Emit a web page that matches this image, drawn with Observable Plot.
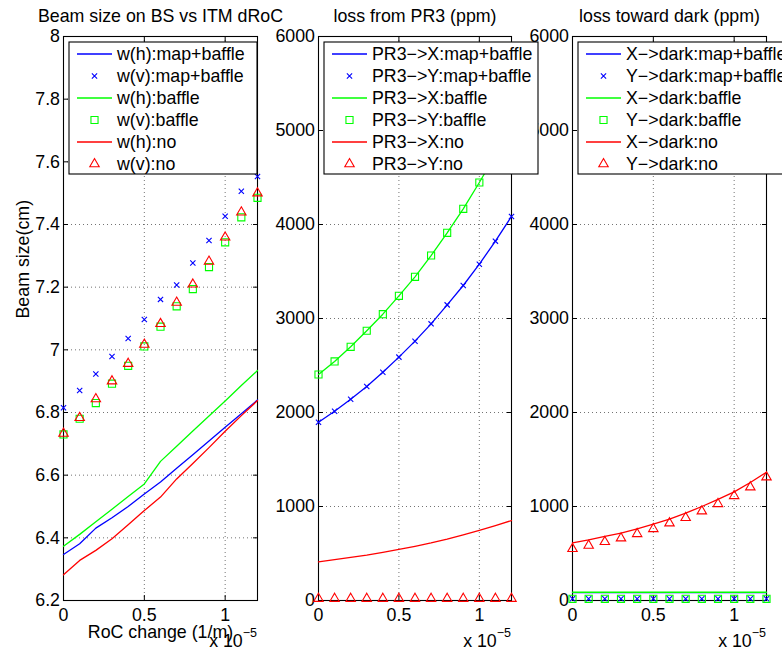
<!DOCTYPE html>
<html>
<head>
<meta charset="utf-8">
<script src="https://cdn.jsdelivr.net/npm/d3@7"></script>
<script src="https://cdn.jsdelivr.net/npm/@observablehq/plot@0.6"></script>
<style>
  body { margin: 0; background: #fff; }
  #chart { position: relative; width: 782px; height: 656px; overflow: hidden; background: #fff; }
  #chart svg { position: absolute; left: 0; top: 0; }
</style>
</head>
<body>
<div id="chart"></div>
<script>
// ---------- data ----------
// RoC change (x 1e-5 1/m)
const roc = [0, 0.1, 0.2, 0.3, 0.4, 0.5, 0.6, 0.7, 0.8, 0.9, 1.0, 1.1, 1.2];
const xTicks = [0, 0.5, 1];
const xTickLabels = ["0", "0.5", "1"];
const beamTicks = [6.2, 6.4, 6.6, 6.8, 7, 7.2, 7.4, 7.6, 7.8, 8];
const beamTickLabels = ["6.2", "6.4", "6.6", "6.8", "7", "7.2", "7.4", "7.6", "7.8", "8"];
const lossTicks = [0, 1000, 2000, 3000, 4000, 5000, 6000];
const lossTickLabels = ["0", "1000", "2000", "3000", "4000", "5000", "6000"];

const titles = ["Beam size on BS vs ITM dRoC", "loss from PR3 (ppm)", "loss toward dark (ppm)"];
const xAxisLabel = "RoC change (1/m)";
const yAxisLabel = "Beam size(cm)";
const xExponent = ["x 10", "\u22125"];

// panel 1: beam size (cm)
const wH_mapBaffle = [6.347, 6.381, 6.431, 6.464, 6.500, 6.540, 6.578, 6.622, 6.665, 6.709, 6.753, 6.796, 6.840];
const wV_mapBaffle = [6.815, 6.870, 6.923, 6.979, 7.036, 7.097, 7.161, 7.207, 7.277, 7.349, 7.426, 7.506, 7.553];
const wH_baffle    = [6.373, 6.411, 6.451, 6.491, 6.532, 6.572, 6.644, 6.692, 6.741, 6.789, 6.837, 6.886, 6.934];
const wV_baffle    = [6.730, 6.780, 6.830, 6.892, 6.949, 7.011, 7.074, 7.139, 7.194, 7.264, 7.343, 7.423, 7.485];
const wH_no        = [6.282, 6.328, 6.360, 6.397, 6.442, 6.487, 6.530, 6.588, 6.637, 6.688, 6.740, 6.790, 6.838];
const wV_no        = [6.733, 6.783, 6.843, 6.900, 6.956, 7.017, 7.083, 7.151, 7.209, 7.282, 7.359, 7.439, 7.500];

// panel 2: loss from PR3 (ppm)
const pr3X_mapBaffle = [1897, 2014, 2142, 2277, 2429, 2589, 2759, 2943, 3145, 3351, 3578, 3823, 4085];
const pr3Y_mapBaffle = [1897, 2014, 2142, 2277, 2429, 2589, 2759, 2943, 3145, 3351, 3578, 3823, 4085];
const pr3X_baffle    = [2404, 2543, 2699, 2870, 3046, 3241, 3443, 3670, 3911, 4167, 4447, 4740, 5050];
const pr3Y_baffle    = [2404, 2543, 2699, 2870, 3046, 3241, 3443, 3670, 3911, 4167, 4447, 4740, 5050];
const pr3X_no        = [411, 435, 458, 483, 512, 543, 576, 612, 652, 697, 745, 797, 851];
const pr3Y_no        = [20, 20, 20, 20, 20, 20, 20, 20, 20, 20, 20, 20, 20];

// panel 3: loss toward dark (ppm)
const darkX_mapBaffle = [84, 84, 84, 84, 84, 84, 84, 84, 84, 84, 84, 84, 84];
const darkY_mapBaffle = [18, 18, 18, 18, 18, 18, 18, 18, 18, 18, 18, 18, 18];
const darkX_baffle    = [88, 88, 88, 88, 88, 88, 88, 88, 88, 88, 88, 88, 88];
const darkY_baffle    = [18, 18, 18, 18, 18, 18, 18, 18, 18, 18, 18, 18, 18];
const darkX_no        = [614, 645, 681, 716, 762, 812, 865, 930, 1000, 1075, 1155, 1255, 1365];
const darkY_no        = [550, 585, 624, 663, 709, 762, 823, 880, 950, 1028, 1113, 1206, 1312];

// ---------- style ----------
const BLUE = "#0000ff", GREEN = "#00ff00", RED = "#ff0000";
const FONT = "'Liberation Sans', Arial, Helvetica, sans-serif";
const FS = 17.8;
const W = 782, H = 656, MT = 36, MB = 56;

const panels = [
  {
    title: titles[0], left: 63, right: 257, yDomain: [6.2, 8], yTicks: beamTicks, yLabels: beamTickLabels,
    xlabel: true, ylabel: true, legendWidth: 188,
    series: [
      {label: "w(h):map+baffle", values: wH_mapBaffle, color: BLUE, kind: "line"},
      {label: "w(v):map+baffle", values: wV_mapBaffle, color: BLUE, kind: "dot", symbol: "times", r: 2.5},
      {label: "w(h):baffle", values: wH_baffle, color: GREEN, kind: "line"},
      {label: "w(v):baffle", values: wV_baffle, color: GREEN, kind: "dot", symbol: "square", r: 4},
      {label: "w(h):no", values: wH_no, color: RED, kind: "line"},
      {label: "w(v):no", values: wV_no, color: RED, kind: "dot", symbol: "triangle", r: 3.5}
    ]
  },
  {
    title: titles[1], left: 318, right: 511, yDomain: [0, 6000], yTicks: lossTicks, yLabels: lossTickLabels,
    xlabel: false, ylabel: false, legendWidth: 214,
    series: [
      {label: "PR3\u2212>X:map+baffle", values: pr3X_mapBaffle, color: BLUE, kind: "line"},
      {label: "PR3\u2212>Y:map+baffle", values: pr3Y_mapBaffle, color: BLUE, kind: "dot", symbol: "times", r: 2.5},
      {label: "PR3\u2212>X:baffle", values: pr3X_baffle, color: GREEN, kind: "line"},
      {label: "PR3\u2212>Y:baffle", values: pr3Y_baffle, color: GREEN, kind: "dot", symbol: "square", r: 4},
      {label: "PR3\u2212>X:no", values: pr3X_no, color: RED, kind: "line"},
      {label: "PR3\u2212>Y:no", values: pr3Y_no, color: RED, kind: "dot", symbol: "triangle", r: 3.5}
    ]
  },
  {
    title: titles[2], left: 572, right: 766, yDomain: [0, 6000], yTicks: lossTicks, yLabels: lossTickLabels,
    xlabel: false, ylabel: false, legendWidth: 230,
    series: [
      {label: "X\u2212>dark:map+baffle", values: darkX_mapBaffle, color: BLUE, kind: "line"},
      {label: "Y\u2212>dark:map+baffle", values: darkY_mapBaffle, color: BLUE, kind: "dot", symbol: "times", r: 2.5},
      {label: "X\u2212>dark:baffle", values: darkX_baffle, color: GREEN, kind: "line"},
      {label: "Y\u2212>dark:baffle", values: darkY_baffle, color: GREEN, kind: "dot", symbol: "square", r: 4},
      {label: "X\u2212>dark:no", values: darkX_no, color: RED, kind: "line"},
      {label: "Y\u2212>dark:no", values: darkY_no, color: RED, kind: "dot", symbol: "triangle", r: 3.5}
    ]
  }
];

const symbolMap = {times: d3.symbolTimes, square: d3.symbolSquare, triangle: d3.symbolTriangle};

function makePanel(p) {
  const rows = (ys) => roc.map((x, i) => ({x, y: ys[i]}));
  const grid = {stroke: "#000", strokeOpacity: 0.55, strokeDasharray: "1,3", strokeWidth: 1};
  const marks = [
    Plot.gridX(xTicks, grid),
    Plot.gridY(p.yTicks, grid),
    Plot.frame({stroke: "#000", strokeWidth: 1.1}),
    // inward tick marks on all four sides
    Plot.axisY(p.yTicks, {anchor: "left", tickSize: 5, dx: 5, fill: "none", label: null, stroke: "#000"}),
    Plot.axisY(p.yTicks, {anchor: "right", tickSize: 5, dx: -5, fill: "none", label: null, stroke: "#000"}),
    Plot.axisX(xTicks, {anchor: "bottom", tickSize: 5, dy: -5, fill: "none", label: null, stroke: "#000"}),
    Plot.axisX(xTicks, {anchor: "top", tickSize: 5, dy: 5, fill: "none", label: null, stroke: "#000"}),
    // tick labels
    Plot.axisY(p.yTicks, {anchor: "left", tickSize: 0, tickPadding: 3.5, label: null, fill: "#000", fontSize: FS,
      tickFormat: (d) => p.yLabels[p.yTicks.indexOf(d)]}),
    Plot.axisX(xTicks, {anchor: "bottom", tickSize: 0, tickPadding: 8, label: null, fill: "#000", fontSize: FS,
      tickFormat: (d) => xTickLabels[xTicks.indexOf(d)]}),
    // title
    Plot.text([p.title], {text: (d) => d, frameAnchor: "top", lineAnchor: "bottom", dy: -14.5, fontSize: FS, fill: "#000"})
  ];
  if (p.xlabel) marks.push(Plot.text([xAxisLabel], {text: (d) => d, frameAnchor: "bottom", lineAnchor: "bottom", dy: 37.7, fontSize: FS, fill: "#000"}));
  if (p.ylabel) marks.push(Plot.text([yAxisLabel], {text: (d) => d, frameAnchor: "left", lineAnchor: "bottom", rotate: -90, dx: -35, fontSize: FS, fill: "#000"}));
  for (const s of p.series) {
    if (s.kind === "line") {
      marks.push(Plot.line(rows(s.values), {x: "x", y: "y", stroke: s.color, strokeWidth: 1.3}));
    } else {
      marks.push(Plot.dot(rows(s.values), {x: "x", y: "y", stroke: s.color, symbol: s.symbol, r: s.r, strokeWidth: 1.1, fill: "none"}));
    }
  }
  const plot = Plot.plot({
    width: W, height: H,
    marginLeft: p.left, marginRight: W - p.right, marginTop: MT, marginBottom: MB,
    x: {domain: [0, 1.2]},
    y: {domain: p.yDomain},
    style: {fontFamily: FONT, fontSize: FS + "px", color: "#000", background: "transparent", overflow: "visible"},
    marks
  });

  // overlay: exponent label and legend
  const svg = d3.select(plot);
  const xs = plot.scale("x");
  const frameRight = xs.apply(1.2);
  const frameLeft = xs.apply(0);
  const ys = plot.scale("y");
  const frameTop = ys.apply(p.yDomain[1]);
  const frameBottom = ys.apply(p.yDomain[0]);

  const ex = svg.append("text")
    .attr("x", frameRight).attr("y", frameBottom + 47)
    .attr("text-anchor", "end").attr("fill", "#000")
    .style("font-family", FONT).style("font-size", FS + "px");
  ex.append("tspan").text(xExponent[0]);
  ex.append("tspan").attr("dy", -10).style("font-size", "12.5px").text(xExponent[1]);

  const lg = svg.append("g").attr("transform", `translate(${frameLeft + 6},${frameTop + 6})`);
  lg.append("rect").attr("x", 0).attr("y", 0).attr("width", p.legendWidth).attr("height", 132)
    .attr("fill", "#fff").attr("stroke", "#000").attr("stroke-width", 1.1);
  p.series.forEach((s, i) => {
    const cy = 12 + 22 * i;
    if (s.kind === "line") {
      lg.append("line").attr("x1", 8).attr("x2", 43).attr("y1", cy).attr("y2", cy)
        .attr("stroke", s.color).attr("stroke-width", 1.3);
    } else {
      lg.append("path").attr("transform", `translate(25.5,${cy})`)
        .attr("d", d3.symbol(symbolMap[s.symbol], s.r * s.r * Math.PI)())
        .attr("fill", "none").attr("stroke", s.color).attr("stroke-width", 1.1);
    }
    lg.append("text").attr("x", 48).attr("y", cy + 6.3).attr("fill", "#000")
      .attr("text-anchor", "start")
      .style("font-family", FONT).style("font-size", FS + "px").text(s.label);
  });
  return plot;
}

const chart = document.getElementById("chart");
// draw right-to-left so that left panels' legends cover neighbours' labels
for (let k = panels.length - 1; k >= 0; k--) chart.appendChild(makePanel(panels[k]));
</script>
</body>
</html>
